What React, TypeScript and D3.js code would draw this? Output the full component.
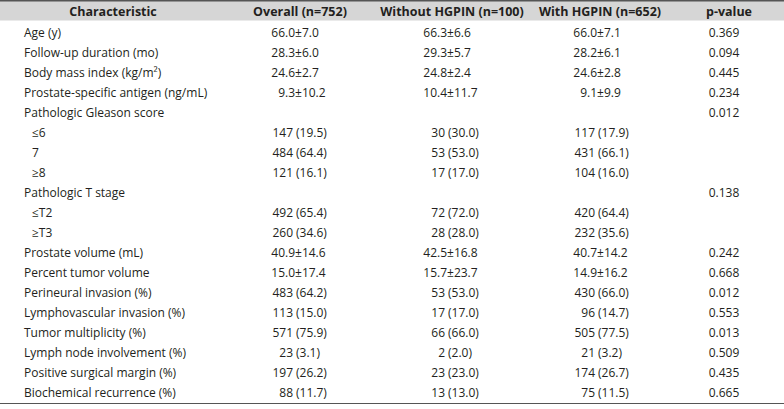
import React from "react";
import * as d3 from "d3";

// table content
const headers = ["Characteristic", "Overall (n=752)", "Without HGPIN (n=100)", "With HGPIN (n=652)", "p-value"];

const characteristics = [
  "Age (y)",
  "Follow-up duration (mo)",
  "Body mass index (kg/m²)",
  "Prostate-specific antigen (ng/mL)",
  "Pathologic Gleason score",
  "≤6",
  "7",
  "≥8",
  "Pathologic T stage",
  "≤T2",
  "≥T3",
  "Prostate volume (mL)",
  "Percent tumor volume",
  "Perineural invasion (%)",
  "Lymphovascular invasion (%)",
  "Tumor multiplicity (%)",
  "Lymph node involvement (%)",
  "Positive surgical margin (%)",
  "Biochemical recurrence (%)",
];

// sub-category rows (indented under their parent)
const subRows = [5, 6, 7, 9, 10];

const overall = [
  "66.0±7.0", "28.3±6.0", "24.6±2.7", "9.3±10.2", "",
  "147 (19.5)", "484 (64.4)", "121 (16.1)", "",
  "492 (65.4)", "260 (34.6)", "40.9±14.6", "15.0±17.4",
  "483 (64.2)", "113 (15.0)", "571 (75.9)", "23 (3.1)", "197 (26.2)", "88 (11.7)",
];

const withoutHgpin = [
  "66.3±6.6", "29.3±5.7", "24.8±2.4", "10.4±11.7", "",
  "30 (30.0)", "53 (53.0)", "17 (17.0)", "",
  "72 (72.0)", "28 (28.0)", "42.5±16.8", "15.7±23.7",
  "53 (53.0)", "17 (17.0)", "66 (66.0)", "2 (2.0)", "23 (23.0)", "13 (13.0)",
];

const withHgpin = [
  "66.0±7.1", "28.2±6.1", "24.6±2.8", "9.1±9.9", "",
  "117 (17.9)", "431 (66.1)", "104 (16.0)", "",
  "420 (64.4)", "232 (35.6)", "40.7±14.2", "14.9±16.2",
  "430 (66.0)", "96 (14.7)", "505 (77.5)", "21 (3.2)", "174 (26.7)", "75 (11.5)",
];

const pValues = [
  "0.369", "0.094", "0.445", "0.234", "0.012",
  "", "", "", "0.138", "", "",
  "0.242", "0.668", "0.012", "0.553", "0.013", "0.509", "0.435", "0.665",
];

const W = 784;
const H = 409;
const FONT = "'Open Sans', 'Noto Sans', sans-serif";
const INK = "#231f20";

// column layout: header centre, decimal anchor (± rows), paren anchor (count rows)
const cols = [
  { head: 300, dot: 285, paren: 296 },
  { head: 452, dot: 437, paren: 448 },
  { head: 600, dot: 587, paren: 598 },
];

function Cell({ s, y, col }: { s: string; y: number; col: { dot: number; paren: number } }) {
  if (!s) return null;
  let lead: string, rest: string, ax: number, gap: number;
  if (s.includes("±")) {
    const i = s.indexOf(".");
    lead = s.slice(0, i);
    rest = s.slice(i);
    ax = col.dot;
    gap = 0;
  } else {
    const i = s.indexOf("(");
    lead = s.slice(0, i).trim();
    rest = s.slice(i);
    ax = col.paren;
    gap = 3;
  }
  return (
    <g>
      <text x={ax - gap} y={y} textAnchor="end">{lead}</text>
      <text x={ax} y={y} textAnchor="start">{rest}</text>
    </g>
  );
}

export default function App() {
  const rows = d3.range(characteristics.length);
  const y = d3.scaleBand<number>().domain(rows).range([22, 402]);
  const base = (i: number) => (y(i) ?? 0) + y.bandwidth() / 2 + 4.5;
  const series = [overall, withoutHgpin, withHgpin];

  return (
    <svg width={W} height={H} style={{ position: "absolute", left: 0, top: 0 }} fontFamily={FONT} fontSize={12} fill={INK}>
      <rect x={0} y={0} width={W} height={H} fill="#fff" />
      <rect x={0} y={1} width={W} height={19.5} fill="#d6d6d6" />
      <line x1={0} x2={W} y1={0.75} y2={0.75} stroke="#555" strokeWidth={1.5} />
      <line x1={0} x2={W} y1={403.5} y2={403.5} stroke="#555" strokeWidth={1.2} />

      <g fontWeight="bold" textAnchor="middle" fontSize={12.5}>
        <text x={113} y={15.5}>{headers[0]}</text>
        {cols.map((c, k) => (
          <text key={k} x={c.head} y={15.5}>{headers[k + 1]}</text>
        ))}
        <text x={729} y={15.5}>{headers[4]}</text>
      </g>

      {rows.map(i => (
        <g key={i}>
          <text x={subRows.includes(i) ? 32 : 24} y={base(i)}>{characteristics[i]}</text>
          {series.map((arr, k) => (
            <Cell key={k} s={arr[i]} y={base(i)} col={cols[k]} />
          ))}
          {pValues[i] && (
            <text x={724} y={base(i)} textAnchor="middle">{pValues[i]}</text>
          )}
        </g>
      ))}
    </svg>
  );
}
